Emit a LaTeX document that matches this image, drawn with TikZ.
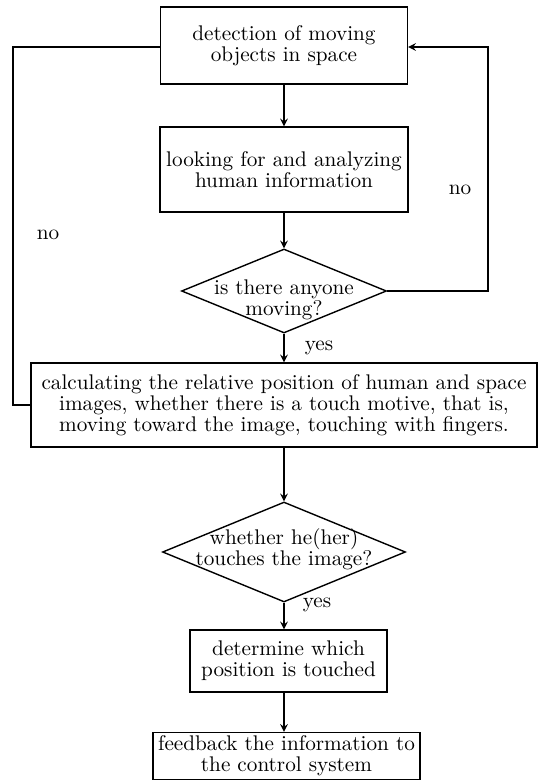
\documentclass[tikz,border=0pt]{standalone}
\usepackage{tikz}
\usetikzlibrary{arrows.meta, calc, shapes, positioning}

\tikzset{
    stepbox/.style={draw, rectangle, line width=0.7pt, align=center, inner sep=0pt},
    decision/.style={draw, diamond, line width=0.7pt, inner sep=0pt},
    flow/.style={->, line width=0.7pt},
    loopline/.style={line width=0.7pt}
}

\begin{document}
\begin{tikzpicture}[>=stealth, x=0.5pt, y=-0.5pt, font=\fontsize{10.6}{10.4}\selectfont]
    \useasboundingbox (0,0) rectangle (548,780);

    % Boxes
    \node[stepbox, minimum width=123.5pt, minimum height=38.5pt] (detect) at (284,45.5)
        {detection of moving\\objects in space};
    \node[stepbox, minimum width=124pt, minimum height=42.5pt] (look) at (284,169.5)
        {looking for and analyzing\\human information};
    \node[decision, minimum width=102.5pt, minimum height=42pt] (anyone) at (284,291) {};
    \node[align=center] at ($(anyone)+(0,9)$) {is there anyone\\moving?};
    \node[stepbox, minimum width=253pt, minimum height=42pt] (calc) at (284,405)
        {calculating the relative position of human and space\\images, whether there is a touch motive, that is,\\moving toward the image, touching with fingers.};
    \node[decision, minimum width=121.5pt, minimum height=50pt] (touch) at (284,552) {};
    \node[align=center] at ($(touch)+(0,-3)$) {whether he(her)\\touches the image?};
    \node[stepbox, minimum width=98.5pt, minimum height=31pt] (which) at (288.5,661)
        {determine which\\position is touched};
    \node[stepbox, minimum width=133.5pt, minimum height=23.5pt] (feedback) at (286.5,756)
        {feedback the information to\\the control system};

    % Arrows
    \draw[flow] (detect.south -| 284,0) -- (look.north -| 284,0);
    \draw[flow] (look.south -| 284,0) -- (anyone.north);
    \draw[flow] (anyone.south) -- (calc.north -| anyone.south);
    \draw[flow] (calc.south -| touch.north) -- (touch.north);
    \draw[flow] (touch.south) -- (which.north -| touch.south);
    \draw[flow] (which.south -| touch.south) -- (feedback.north -| touch.south);

    % Loops
    \coordinate (rturn) at (488,47);
    \coordinate (lturn) at (13,47);
    \draw[flow] (anyone.east) -| (rturn) -- (detect.east |- rturn);
    \draw[loopline] (detect.west |- lturn) -- (lturn) |- (calc.west);

    % Labels
    \node (noright) at (460,190) {no};
    \node (noleft) at (48,235) {no};
    \node (yesone) at (319,348) {yes};
    \node (yestwo) at (317,605) {yes};
\end{tikzpicture}
\end{document}
